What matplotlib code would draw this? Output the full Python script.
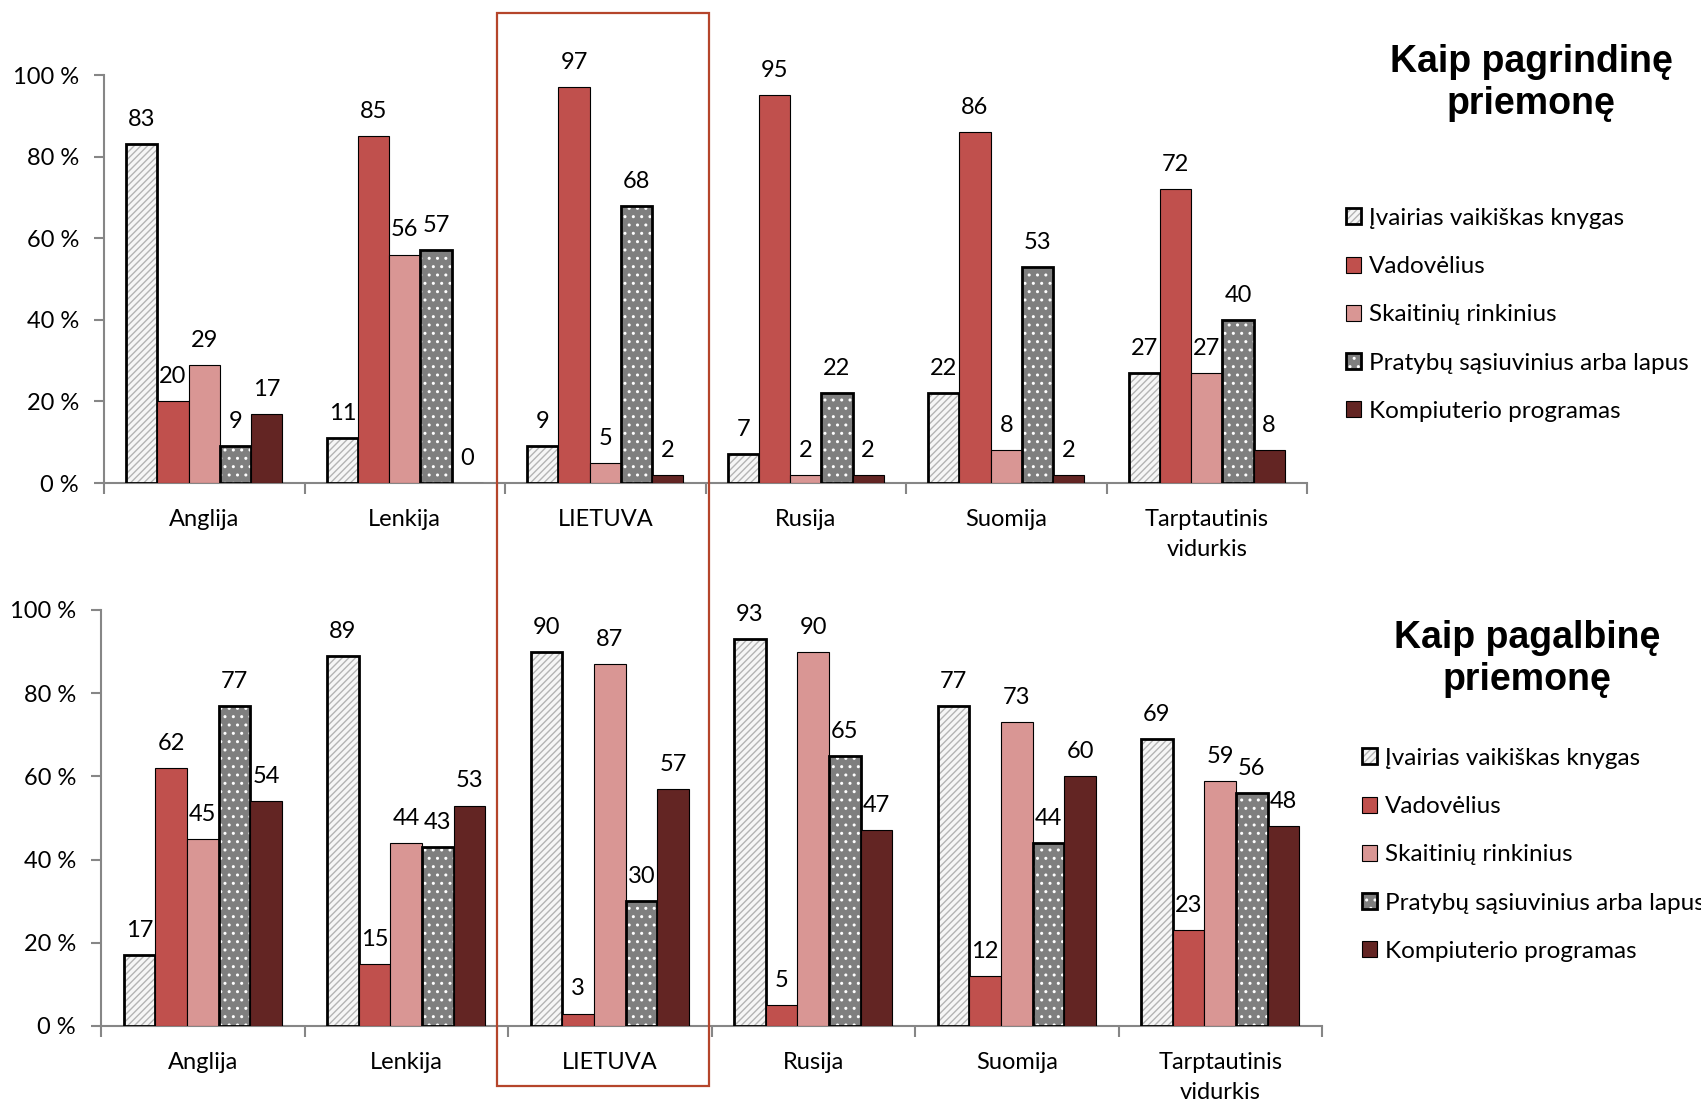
import numpy as np
import matplotlib
matplotlib.use("Agg")
import matplotlib.pyplot as plt
from matplotlib.patches import Rectangle
from matplotlib.ticker import FixedLocator, FuncFormatter
from matplotlib.legend_handler import HandlerTuple

plt.rcParams['font.family'] = ['Lato', 'DejaVu Sans']
plt.rcParams['hatch.linewidth'] = 1.0

W, H = 1701, 1102

categories = ["Anglija", "Lenkija", "LIETUVA", "Rusija", "Suomija", "Tarptautinis\nvidurkis"]
series_names = ["Įvairias vaikiškas knygas", "Vadovėlius", "Skaitinių rinkinius",
                "Pratybų sąsiuvinius arba lapus", "Kompiuterio programas"]

# Kaip pagrindinę priemonę
main_knygos = [83, 11, 9, 7, 22, 27]
main_vadoveliai = [20, 85, 97, 95, 86, 72]
main_skaitiniai = [29, 56, 5, 2, 8, 27]
main_pratybos = [9, 57, 68, 22, 53, 40]
main_kompiuteris = [17, 0, 2, 2, 2, 8]

# Kaip pagalbinę priemonę
aux_knygos = [17, 89, 90, 93, 77, 69]
aux_vadoveliai = [62, 15, 3, 5, 12, 23]
aux_skaitiniai = [45, 44, 87, 90, 73, 59]
aux_pratybos = [77, 43, 30, 65, 44, 56]
aux_kompiuteris = [54, 53, 57, 47, 60, 48]

yticks = [0, 20, 40, 60, 80, 100]

STYLES = [
    dict(face="#F6F6F6", hatch="/////", hatch_color="#B4B4B4", lw=2.0),
    dict(face="#C0504D", hatch=None, hatch_color=None, lw=0.8),
    dict(face="#D99694", hatch=None, hatch_color=None, lw=0.8),
    dict(face="#7F7F7F", hatch="..", hatch_color="white", lw=2.0),
    dict(face="#632523", hatch=None, hatch_color=None, lw=0.8),
]
BAR_W = 0.1556
AXIS_GRAY = "#868686"
FS = 17


def px_axes(fig, left, top, right, bottom):
    return fig.add_axes([left / W, 1 - bottom / H, (right - left) / W, (bottom - top) / H])


def draw_panel(ax, series):
    x = np.arange(len(categories))
    handles = []
    for j, (vals, st) in enumerate(zip(series, STYLES)):
        xs = x + (j - 2) * BAR_W
        if st["hatch"]:
            b1 = ax.bar(xs, vals, BAR_W, color=st["face"], edgecolor=st["hatch_color"],
                        hatch=st["hatch"], lw=0, zorder=3 + j)
            b2 = ax.bar(xs, vals, BAR_W, facecolor="none", edgecolor="black",
                        lw=st["lw"], zorder=3 + j)
            handles.append((b1, b2))
        else:
            b = ax.bar(xs, vals, BAR_W, color=st["face"], edgecolor="black",
                       lw=st["lw"], zorder=3 + j)
            handles.append(b)
        for xi, v in zip(xs, vals):
            ax.annotate(str(v), (xi, v), xytext=(0, 13), textcoords="offset points",
                        ha="center", va="baseline", fontsize=FS, zorder=20)

    ax.set_xlim(-0.5, len(categories) - 0.5)
    ax.set_ylim(0, 100)
    ax.spines["top"].set_visible(False)
    ax.spines["right"].set_visible(False)
    for s in ["left", "bottom"]:
        ax.spines[s].set_color(AXIS_GRAY)
        ax.spines[s].set_linewidth(1.5)
    ax.set_yticks(yticks)
    ax.yaxis.set_major_formatter(FuncFormatter(lambda v, p: "%d %%" % v))
    ax.tick_params(axis="y", length=7, width=1.5, color=AXIS_GRAY, pad=11, labelsize=FS)
    ax.set_xticks(x)
    ax.set_xticklabels(categories, fontsize=FS, linespacing=1.5)
    ax.xaxis.set_minor_locator(FixedLocator(np.arange(-0.5, len(categories), 1.0)))
    ax.tick_params(axis="x", which="major", length=0, pad=19)
    ax.tick_params(axis="x", which="minor", length=8, width=1.5, color=AXIS_GRAY)
    return handles


fig = plt.figure(figsize=(W / 100, H / 100), dpi=100)

ax_top = px_axes(fig, 104, 75, 1307, 483)
h_top = draw_panel(ax_top, [main_knygos, main_vadoveliai, main_skaitiniai,
                            main_pratybos, main_kompiuteris])

ax_bot = px_axes(fig, 101, 610, 1322, 1026)
h_bot = draw_panel(ax_bot, [aux_knygos, aux_vadoveliai, aux_skaitiniai,
                            aux_pratybos, aux_kompiuteris])

# titles
fig.text(1531 / W, 1 - 83 / H, "Kaip pagrindinę\npriemonę", ha="center", va="center",
         fontsize=27, fontweight="bold", family="Liberation Sans", linespacing=1.25)
fig.text(1527 / W, 1 - 659 / H, "Kaip pagalbinę\npriemonę", ha="center", va="center",
         fontsize=27, fontweight="bold", family="Liberation Sans", linespacing=1.25)

# legends
for handles, (lx, ly) in [(h_top, (1346, 208)), (h_bot, (1362, 748))]:
    fig.legend(handles, series_names, loc="upper left",
               bbox_to_anchor=(lx / W, 1 - ly / H), frameon=False,
               fontsize=17.5, handlelength=0.63, handleheight=0.63, handletextpad=0.3,
               labelspacing=1.12, borderpad=0, borderaxespad=0,
               handler_map={tuple: HandlerTuple(ndivide=1, pad=0)})

# red frame around LIETUVA
fig.add_artist(Rectangle((497 / W, 1 - 1086 / H), (709 - 497) / W, (1086 - 13) / H,
                         transform=fig.transFigure, fill=False, ec="#B5452B", lw=1.6))

fig.savefig("out.png", dpi=100)
